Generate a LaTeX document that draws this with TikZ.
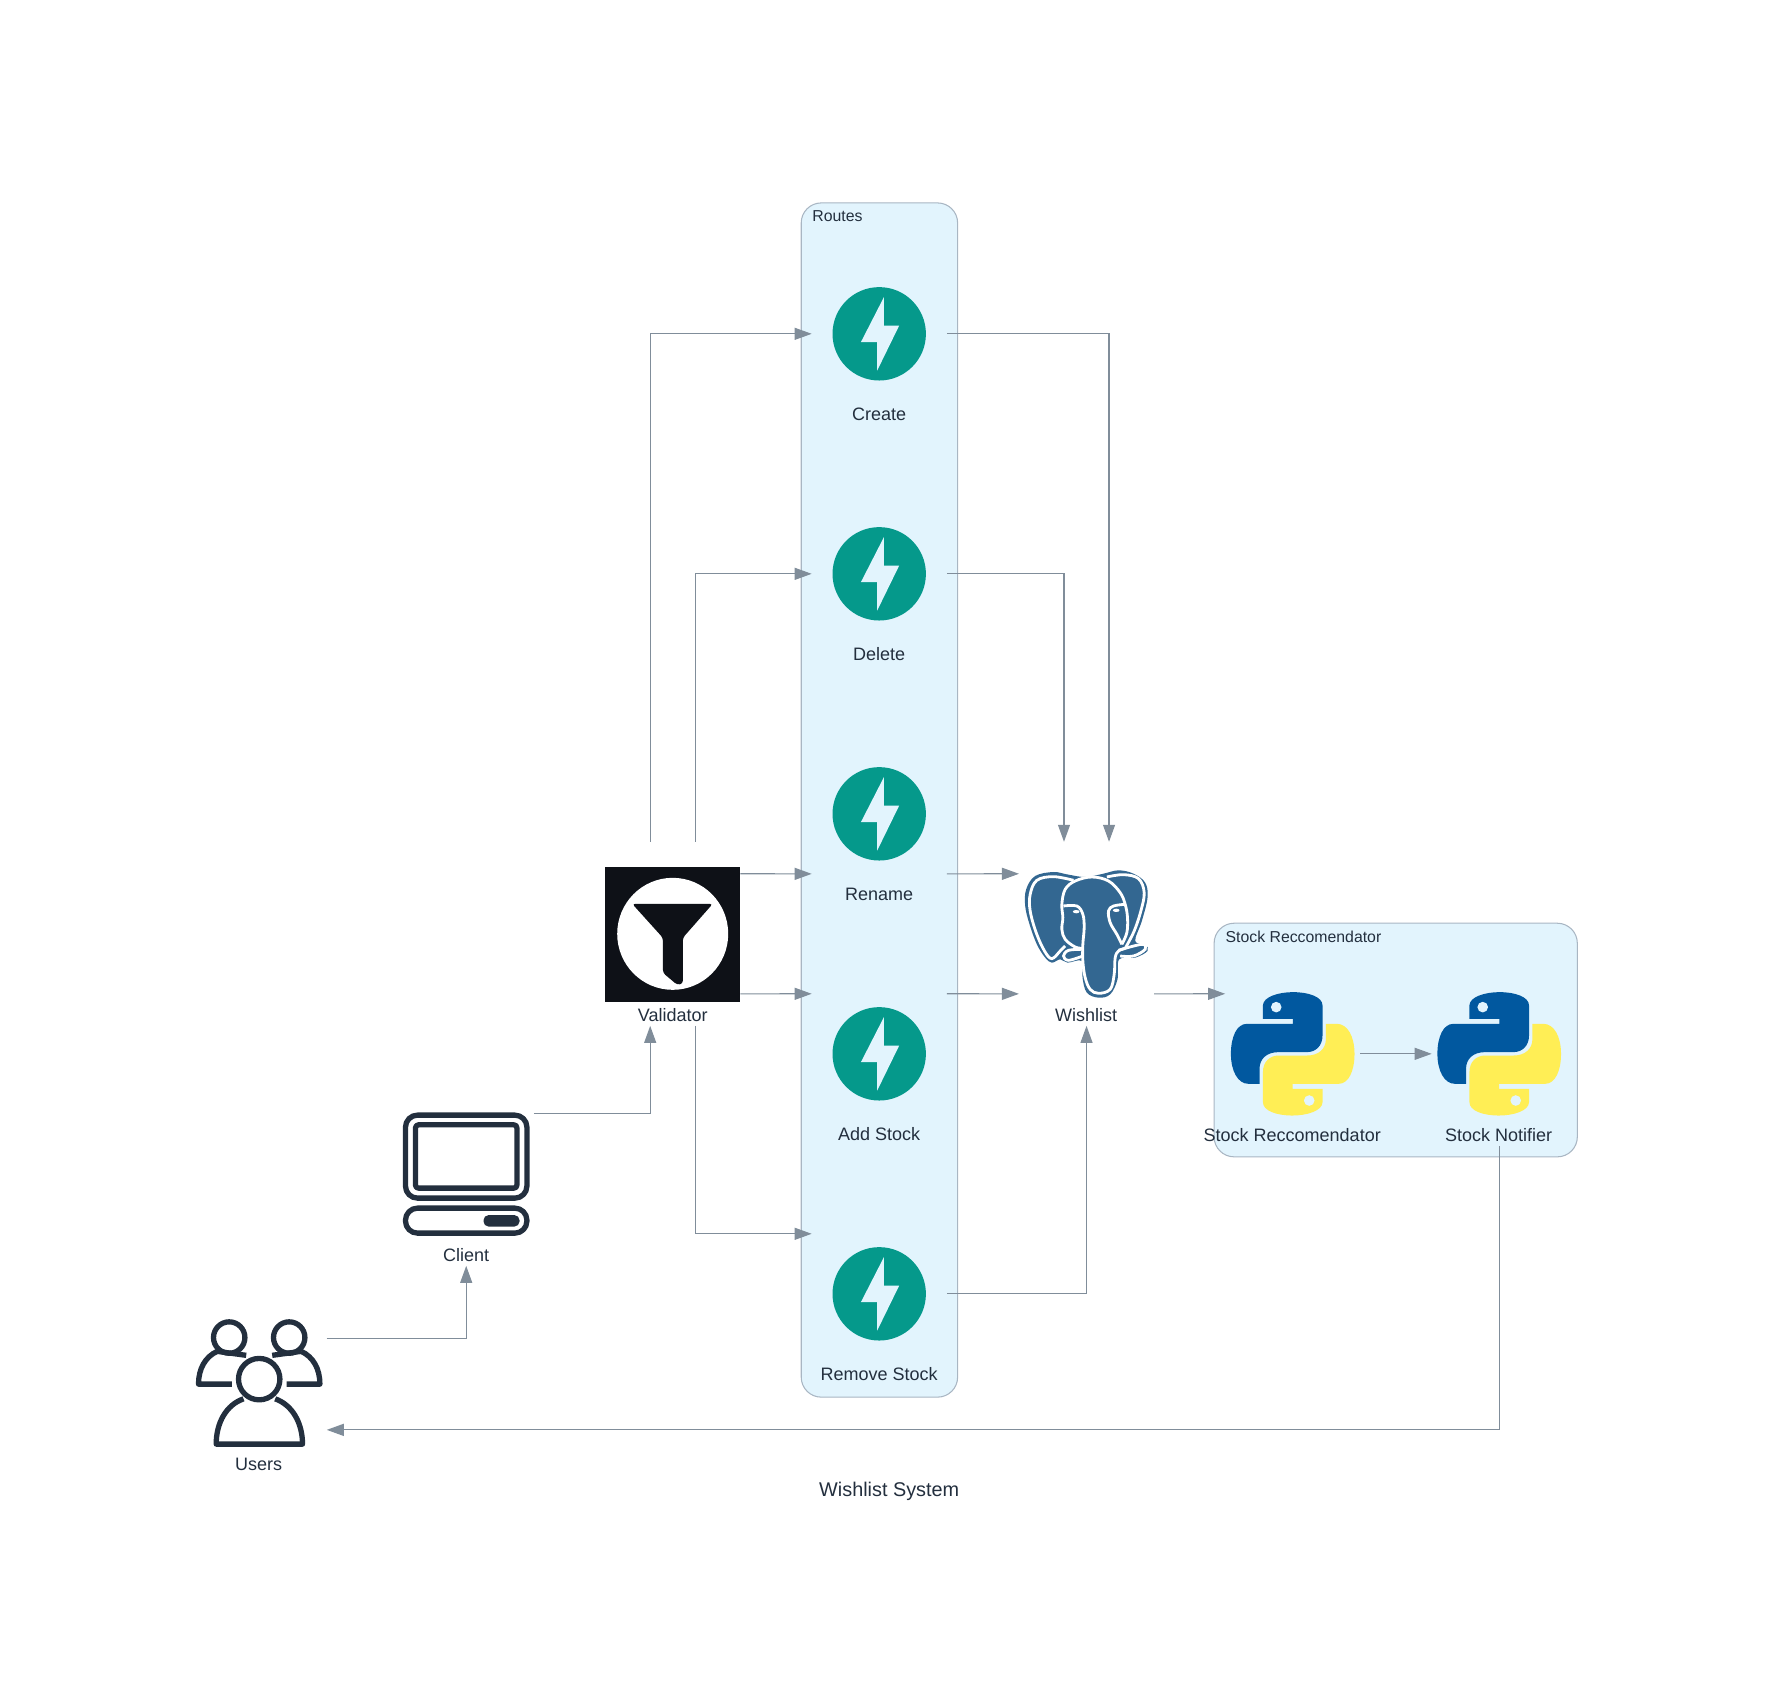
\documentclass[tikz,border=0pt]{standalone}
\usepackage{fontspec}
\setmainfont{Liberation Sans}
\usetikzlibrary{arrows.meta}
\definecolor{inktext}{HTML}{232F3E}
\definecolor{edgegray}{HTML}{808D9A}
\definecolor{clusterfill}{HTML}{E2F4FD}
\definecolor{clusterline}{HTML}{A9B6C3}
\definecolor{fastteal}{HTML}{05998B}
\definecolor{pyblue}{HTML}{01589F}
\definecolor{pyyellow}{HTML}{FFEE55}
\definecolor{pgblue}{HTML}{336791}
\definecolor{filterblack}{HTML}{0E1117}
\tikzset{
	iconbox/.style = {minimum width = 1.35cm, minimum height = 1.84cm, inner sep = 0, outer sep = 0},
	iconlabel/.style = {text = inktext, inner sep = 0, font = \fontsize{5.12}{6}\selectfont},
	clusterbox/.style = {draw = clusterline, fill = clusterfill, line width = 0.3pt, rounded corners = 2mm, inner sep = 0, outer sep = 0},
	clustertitle/.style = {text = inktext, inner sep = 0, anchor = west, font = \fontsize{4.5}{5.5}\selectfont},
	edge/.style = {draw = edgegray, line width = 0.33pt, -{Triangle[length = 1.7mm, width = 1.2mm]}},
	glyph/.style = {draw = inktext, line width = 0.53mm, line join = round},
	elephantline/.style = {draw = white, line width = 0.8pt, smooth, tension = 0.6},
	fastapi/.pic = {
		\fill [fastteal] (0,0) circle (46.7);
		\fill [clusterfill] (4.7,-36.7) -- (4.7,-8.3) -- (20,-8.3) -- (-2,36.7) -- (-2,8.3) -- (-18.3,8.3) -- cycle;
	},
	pysnake/.pic = {
		\foreach \ang/\col in {0/pyblue, 180/pyyellow} {
			\begin{scope}[rotate = \ang]
				\fill [\col] (-29.8,-35) -- (-29.8,-48.3) .. controls (-29.8,-57) and (-14,-61.7) .. (0.2,-61.7)
					.. controls (16,-61.7) and (29.8,-57) .. (29.8,-48.3) -- (29.8,-18.3)
					.. controls (29.8,-8) and (23,-1.7) .. (14.2,-1.7) -- (-14.2,-1.7)
					.. controls (-26,-1.7) and (-33.2,5) .. (-33.2,15) -- (-33.2,30) -- (-44.2,30)
					.. controls (-55,30) and (-61.8,17) .. (-61.8,0)
					.. controls (-61.8,-17) and (-56,-30) .. (-45.8,-30) -- (0.2,-30) -- (0.2,-35) -- cycle;
				\fill [clusterfill] (-16.5,-46.7) circle (5.3);
			\end{scope}
		}
	}
}
\begin{document}
\begin{tikzpicture}[x = 0.01cm, y = -0.01cm]
	\useasboundingbox (-0.2,-0.8) rectangle (1779.8,1698.2);
	% the two groups
	\node [clusterbox, minimum width = 1.563cm, minimum height = 11.935cm] (routes) at (879.2,799.2) {};
	\node [clustertitle] (routes-title) at (811.5,215.7) {Routes};
	\node [clusterbox, minimum width = 3.63cm, minimum height = 2.335cm] (stockgroup) at (1395.5,1039.2) {};
	\node [clustertitle] (stockgroup-title) at (1224.7,935.7) {Stock Reccomendator};
	% routes
	\foreach \name/\ypos/\txt in {create/333/Create, delete/573/Delete, rename/813/Rename, addstock/1053/Add Stock, removestock/1293/Remove Stock} {
		\node [iconbox] (\name) at (879,\ypos) {};
		\pic at (\name.center) {fastapi};
		\node [iconlabel] (\name-label) at (879,\ypos+80.5) {\txt};
	}
	% validator
	\node [iconbox] (validator) at (672.5,933) {};
	\fill [filterblack] (605,866) rectangle (740,1001);
	\fill [white] (672.5,933) ellipse (55.5 and 56);
	\fill [filterblack, rounded corners = 0.3mm] (632,903) -- (712.5,903) -- (682.6,937) -- (682.6,983) -- (677,984) -- (662.7,972) -- (662.7,937) -- cycle;
	\node [iconlabel] (validator-label) at (672.5,1014) {Validator};
	% wishlist
	\node [iconbox] (wishlist) at (1086.3,933) {};
	\begin{scope}[shift = {(wishlist.center)}, scale = 1/3, shift = {(-229,-218.5)}]
		\fill [pgblue] plot [smooth cycle, tension = 0.6] coordinates {(130,33) (75,45) (48,85) (45,135) (58,190) (80,250) (105,290) (125,305) (150,295) (172,305) (215,300) (217,350) (230,395) (265,410) (300,400) (322,355) (327,295) (375,290) (412,270) (405,250) (375,240) (395,180) (412,110) (405,65) (370,38) (325,28) (280,38) (225,48) (170,40)};
		\draw [elephantline] plot coordinates {(190,58) (130,47) (80,58) (60,100) (60,150) (78,215) (103,270) (125,293) (150,270) (165,255)};
		\draw [elephantline] plot coordinates {(218,262) (195,258) (165,235) (155,205) (158,170) (155,130) (165,85) (195,60) (245,48) (295,60) (330,95) (345,130) (352,170) (350,215) (335,250)};
		\draw [elephantline] plot coordinates {(345,130) (310,135) (295,150) (300,185) (320,220) (335,250)};
		\draw [elephantline] plot coordinates {(290,48) (340,41) (385,53) (402,95) (392,150) (372,210) (345,262)};
		\draw [elephantline] plot coordinates {(160,135) (200,135) (218,160) (222,200) (218,250) (218,300) (225,350) (240,385) (265,397) (300,385) (312,340) (315,290) (325,270) (345,262)};
		\draw [elephantline] plot coordinates {(325,268) (395,250) (405,265) (370,285) (330,285)};
		\draw [elephantline] plot coordinates {(218,265) (175,268) (160,285) (175,298) (218,285)};
		\fill [white] (198,152) ellipse (10 and 5) (318,148) ellipse (10 and 5);
	\end{scope}
	\node [iconlabel] (wishlist-label) at (1086,1014) {Wishlist};
	% python parts
	\node [iconbox] (reccomendator) at (1292.5,1053) {};
	\pic at (reccomendator.center) {pysnake};
	\node [iconlabel] (reccomendator-label) at (1292,1134) {Stock Reccomendator};
	\node [iconbox] (notifier) at (1499,1053) {};
	\pic at (notifier.center) {pysnake};
	\node [iconlabel] (notifier-label) at (1498.5,1134) {Stock Notifier};
	% client
	\node [iconbox] (client) at (466,1173) {};
	\draw [glyph, rounded corners = 1.2mm] (405.3,1114.3) rectangle (526.7,1197.3);
	\draw [glyph, rounded corners = 0.3mm] (415.3,1124) rectangle (516.7,1187.3);
	\draw [glyph, rounded corners = 1.2mm] (405.3,1207.3) rectangle (526.7,1232.3);
	\fill [inktext, rounded corners = 0.5mm] (483.3,1214.3) rectangle (519.3,1225.7);
	\node [iconlabel] (client-label) at (466,1254) {Client};
	% users
	\node [iconbox] (users) at (259,1383) {};
	\draw [glyph] (229,1336.7) circle (15.7) (289,1336.7) circle (15.7) (259,1378.3) circle (20.7);
	\draw [glyph] (231.7,1383.3) -- (198.3,1383.3) .. controls (198.3,1368) and (205,1356) .. (217,1350.5);
	\draw [glyph] (286.3,1383.3) -- (319.7,1383.3) .. controls (319.7,1368) and (313,1356) .. (301,1350.5);
	\draw [glyph] (217,1350.5) -- (246,1354.5) (301,1350.5) -- (272,1354.5);
	\draw [glyph] (243.3,1398) .. controls (226,1404) and (216,1422) .. (216,1443.3) -- (302.3,1443.3) .. controls (302.3,1422) and (292,1404) .. (275,1398);
	\node [iconlabel] (users-label) at (258.5,1463.5) {Users};
	% connectors
	\draw [edge] ([yshift = 0.45cm]users.east) -| (client.south);
	\draw [edge] ([yshift = 0.6cm]client.east) -| ([xshift = -0.225cm]validator.south);
	\draw [edge] ([xshift = -0.225cm]validator.north) |- (create.west);
	\draw [edge] ([xshift = 0.225cm]validator.north) |- (delete.west);
	\draw [edge] ([yshift = 0.6cm]validator.east) -- ([yshift = -0.6cm]rename.west);
	\draw [edge] ([yshift = -0.6cm]validator.east) -- ([yshift = 0.6cm]addstock.west);
	\draw [edge] ([xshift = 0.225cm]validator.south) |- ([yshift = 0.6cm]removestock.west);
	\draw [edge] (create.east) -| ([xshift = 0.225cm]wishlist.north);
	\draw [edge] (delete.east) -| ([xshift = -0.225cm]wishlist.north);
	\draw [edge] ([yshift = -0.6cm]rename.east) -- ([yshift = 0.6cm]wishlist.west);
	\draw [edge] ([yshift = 0.6cm]addstock.east) -- ([yshift = -0.6cm]wishlist.west);
	\draw [edge] (removestock.east) -| (wishlist.south);
	\draw [edge] ([yshift = -0.6cm]wishlist.east) -- ([yshift = 0.6cm]reccomendator.west);
	\draw [edge] (reccomendator.east) -- (notifier.west);
	\draw [edge] (notifier.south) |- ([yshift = -0.46cm]users.east);
	% caption
	\node [text = inktext, inner sep = 0, font = \fontsize{5.64}{7}\selectfont] (caption) at (889,1490.5) {Wishlist System};
\end{tikzpicture}
\end{document}
